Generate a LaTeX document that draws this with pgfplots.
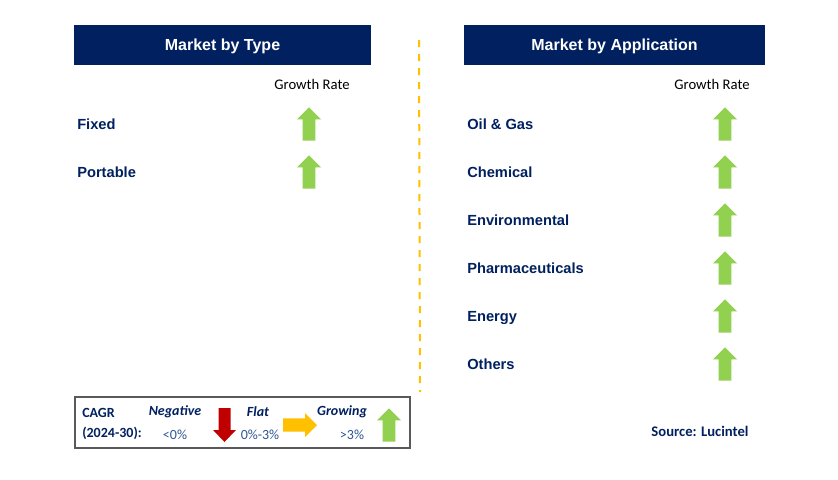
\documentclass[border=0pt]{standalone}
\usepackage{pgfplots}
\pgfplotsset{compat=1.18}
\usepackage{pgfplotstable}
\usepackage{fontspec}
\setmainfont{Liberation Sans}
\newfontfamily\calibri{Carlito}

\definecolor{navy}{RGB}{0,32,96}
\definecolor{upgreen}{RGB}{146,208,80}
\definecolor{downred}{RGB}{192,0,0}
\definecolor{flatamber}{RGB}{255,192,0}
\definecolor{legblue}{RGB}{47,85,151}
\definecolor{boxgray}{RGB}{89,89,89}

% arrow marks, sizes in pt (1px = 0.75pt)
\pgfdeclareplotmark{uparrow}{%
  \pgfpathmoveto{\pgfqpoint{-4.75pt}{-12.4pt}}%
  \pgfpathlineto{\pgfqpoint{4.75pt}{-12.4pt}}%
  \pgfpathlineto{\pgfqpoint{4.75pt}{3.4pt}}%
  \pgfpathlineto{\pgfqpoint{9pt}{3.4pt}}%
  \pgfpathlineto{\pgfqpoint{0pt}{12.4pt}}%
  \pgfpathlineto{\pgfqpoint{-9pt}{3.4pt}}%
  \pgfpathlineto{\pgfqpoint{-4.75pt}{3.4pt}}%
  \pgfpathclose\pgfusepathqfill}
\pgfdeclareplotmark{downarrow}{%
  \pgfpathmoveto{\pgfqpoint{-4.5pt}{12.75pt}}%
  \pgfpathlineto{\pgfqpoint{4.5pt}{12.75pt}}%
  \pgfpathlineto{\pgfqpoint{4.5pt}{-3.75pt}}%
  \pgfpathlineto{\pgfqpoint{8.6pt}{-3.75pt}}%
  \pgfpathlineto{\pgfqpoint{0pt}{-12.75pt}}%
  \pgfpathlineto{\pgfqpoint{-8.6pt}{-3.75pt}}%
  \pgfpathlineto{\pgfqpoint{-4.5pt}{-3.75pt}}%
  \pgfpathclose\pgfusepathqfill}
\pgfdeclareplotmark{rightarrow}{%
  \pgfpathmoveto{\pgfqpoint{-12.75pt}{-4.9pt}}%
  \pgfpathlineto{\pgfqpoint{-12.75pt}{4.9pt}}%
  \pgfpathlineto{\pgfqpoint{3.75pt}{4.9pt}}%
  \pgfpathlineto{\pgfqpoint{3.75pt}{9pt}}%
  \pgfpathlineto{\pgfqpoint{12.75pt}{0pt}}%
  \pgfpathlineto{\pgfqpoint{3.75pt}{-9pt}}%
  \pgfpathlineto{\pgfqpoint{3.75pt}{-4.9pt}}%
  \pgfpathclose\pgfusepathqfill}

% segment rows: y position of each row
\pgfplotstableread{
y  label
124 Fixed
172 Portable
}\typetable
\pgfplotstableread{
y  label
124 {Oil \& Gas}
172 Chemical
220 Environmental
268 Pharmaceuticals
316 Energy
364 Others
}\apptable

\begin{document}
\begin{tikzpicture}
\begin{axis}[
  scale only axis,
  width=628.5pt, height=359.25pt,
  xmin=0, xmax=838, ymin=0, ymax=479,
  y dir=reverse,
  hide axis,
  clip=false,
  rowlabel/.style={only marks, mark=none, nodes near coords, point meta=explicit symbolic,
    every node near coord/.style={anchor=base west, inner sep=0pt, yshift=-3.9pt, text=navy,
      font=\fontsize{11}{13}\selectfont\bfseries}},
]
% canvas
\addplot[fill=white, draw=none] coordinates {(0,0) (838,0) (838,479) (0,479)} --cycle;
% header boxes
\addplot[fill=navy, draw=none] coordinates {(74,25) (371,25) (371,65) (74,65)} --cycle;
\addplot[fill=navy, draw=none] coordinates {(464,25) (765,25) (765,65) (464,65)} --cycle;
% divider
\addplot[flatamber, line width=1.5pt, dash pattern=on 5.25pt off 5.25pt] coordinates {(419,40) (420,392)};
% legend box
\addplot[boxgray, line width=0.9pt, fill=white] coordinates {(75,397) (410,397) (410,448) (75,448)} --cycle;

% growth arrows
\addplot[only marks, mark=uparrow, mark options={fill=upgreen, draw=none}]
  table[x expr=309, y=y] {\typetable};
\addplot[only marks, mark=uparrow, mark options={fill=upgreen, draw=none}]
  table[x expr=725, y=y] {\apptable};
% row labels
\addplot[rowlabel] table[x expr=77, y=y, meta=label] {\typetable};
\addplot[rowlabel] table[x expr=467, y=y, meta=label] {\apptable};

% legend arrows
\addplot[only marks, mark=downarrow, mark options={fill=downred, draw=none}] coordinates {(224.5,425)};
\addplot[only marks, mark=rightarrow, mark options={fill=flatamber, draw=none}] coordinates {(300,425)};
\addplot[only marks, mark=uparrow, mark options={fill=upgreen, draw=none}] coordinates {(389,425)};

% texts
\node[anchor=base, text=white, font=\fontsize{12}{14}\selectfont\bfseries] at (axis cs:222.5,50.5) {Market by Type};
\node[anchor=base, text=white, font=\fontsize{12}{14}\selectfont\bfseries] at (axis cs:614.5,50.5) {Market by Application};
\node[font=\calibri\fontsize{11}{13}\selectfont] at (axis cs:312,84) {Growth Rate};
\node[font=\calibri\fontsize{11}{13}\selectfont] at (axis cs:712,84) {Growth Rate};

\node[anchor=west, inner sep=0pt, text=navy, font=\calibri\fontsize{10.5}{12}\selectfont\bfseries] at (axis cs:82,413) {CAGR};
\node[anchor=west, inner sep=0pt, text=navy, font=\calibri\fontsize{10.5}{12}\selectfont\bfseries] at (axis cs:82,433) {(2024-30):};
\node[text=navy, font=\calibri\fontsize{10.5}{12}\selectfont\bfseries\itshape] at (axis cs:175,412) {Negative};
\node[text=navy, font=\calibri\fontsize{10.5}{12}\selectfont\bfseries\itshape] at (axis cs:258,412) {Flat};
\node[text=navy, font=\calibri\fontsize{10.5}{12}\selectfont\bfseries\itshape] at (axis cs:342,412) {Growing};
\node[text=legblue, font=\calibri\fontsize{10.5}{12}\selectfont] at (axis cs:175,435) {<0\%};
\node[text=legblue, font=\calibri\fontsize{10.5}{12}\selectfont] at (axis cs:260,435) {0\%-3\%};
\node[text=legblue, font=\calibri\fontsize{10.5}{12}\selectfont] at (axis cs:352,435) {>3\%};

\node[text=navy, font=\calibri\fontsize{11}{13}\selectfont\bfseries] at (axis cs:700,431) {Source: Lucintel};
\end{axis}
\end{tikzpicture}
\end{document}
